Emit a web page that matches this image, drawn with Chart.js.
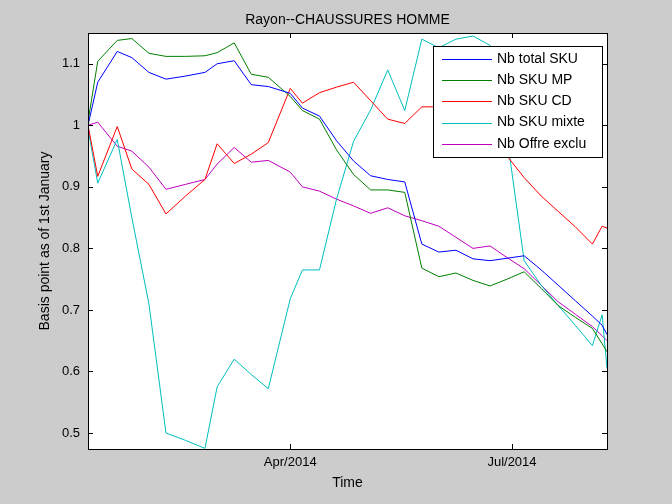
<!DOCTYPE html>
<html><head><meta charset="utf-8">
<script src="https://cdn.jsdelivr.net/npm/chart.js@4"></script>
<style>html,body{margin:0;padding:0;background:#cccccc;}#c{display:block;}</style>
</head><body>
<div style="width:672px;height:504px;"><canvas id="c" width="672" height="504"></canvas></div>
<script>
const days=[7,11,19,25,32,39,47,55,60,67,74,81,90,95,102,109,116,123,130,137,144,151,158,165,172,179,186,193,200,207,214,218,220];
const totalSKU=[1.0,1.07,1.12,1.11,1.086,1.075,1.08,1.086,1.10,1.105,1.066,1.063,1.052,1.028,1.015,0.975,0.942,0.918,0.912,0.908,0.807,0.794,0.797,0.783,0.78,0.784,0.788,0.765,0.74,0.715,0.69,0.675,0.66];
const skuMP=[1.006,1.104,1.138,1.141,1.117,1.112,1.112,1.113,1.118,1.134,1.083,1.078,1.047,1.024,1.01,0.96,0.92,0.895,0.895,0.891,0.768,0.754,0.76,0.748,0.739,0.75,0.762,0.735,0.707,0.688,0.67,0.645,0.632];
const skuCD=[1.0,0.917,0.998,0.929,0.904,0.856,0.885,0.912,0.97,0.938,0.953,0.972,1.06,1.036,1.053,1.062,1.07,1.04,1.01,1.003,1.03,1.03,1.02,1.0,0.98,0.95,0.915,0.885,0.86,0.835,0.807,0.836,0.833];
const skuMixte=[0.994,0.906,0.977,0.85,0.71,0.5,0.488,0.475,0.575,0.62,0.595,0.572,0.718,0.765,0.765,0.88,0.974,1.025,1.09,1.024,1.14,1.126,1.14,1.145,1.13,0.98,0.78,0.74,0.707,0.675,0.642,0.692,0.605];
const offreExclu=[1.0,1.005,0.966,0.958,0.932,0.896,0.904,0.912,0.937,0.964,0.94,0.943,0.924,0.9,0.893,0.88,0.869,0.857,0.866,0.853,0.845,0.836,0.818,0.8,0.804,0.785,0.767,0.74,0.713,0.693,0.673,0.658,0.65];
const xTickDays=[90,181];
const xTickLabels=['Apr/2014','Jul/2014'];
const yTicks=[0.5,0.6,0.7,0.8,0.9,1,1.1];
const labels=['Nb total SKU','Nb SKU MP','Nb SKU CD','Nb SKU mixte','Nb Offre exclu'];
const colors=['#0000ff','#008000','#ff0000','#00bfbf','#bf00bf'];
const series=[totalSKU,skuMP,skuCD,skuMixte,offreExclu];
const FONT='"Liberation Sans", Arial, sans-serif';

const deco={id:'deco',
 beforeDraw(ch){const {ctx,chartArea:a}=ch;ctx.save();ctx.fillStyle='#fff';ctx.fillRect(a.left,a.top,a.right-a.left,a.bottom-a.top);ctx.restore();},
 afterDraw(ch){const {ctx,chartArea:a,scales}=ch;ctx.save();
  ctx.strokeStyle='#000';ctx.lineWidth=1;
  ctx.strokeRect(Math.round(a.left)+0.5,Math.round(a.top)+0.5,Math.round(a.right-a.left),Math.round(a.bottom-a.top));
  const L=5;ctx.beginPath();
  xTickDays.forEach(d=>{const x=Math.round(scales.x.getPixelForValue(d))+0.5;ctx.moveTo(x,a.bottom);ctx.lineTo(x,a.bottom-L);ctx.moveTo(x,a.top);ctx.lineTo(x,a.top+L);});
  yTicks.forEach(v=>{const y=Math.round(scales.y.getPixelForValue(v))+0.5;ctx.moveTo(a.left,y);ctx.lineTo(a.left+L,y);ctx.moveTo(a.right,y);ctx.lineTo(a.right-L,y);});
  ctx.stroke();
  ctx.fillStyle='#000';ctx.font='14px '+FONT;ctx.textAlign='center';ctx.textBaseline='middle';
  ctx.fillText('Rayon--CHAUSSURES HOMME',(a.left+a.right)/2,20);
  ctx.fillText('Time',(a.left+a.right)/2,483);
  ctx.save();ctx.translate(45,(a.top+a.bottom)/2);ctx.rotate(-Math.PI/2);ctx.fillText('Basis point as of 1st January',0,0);ctx.restore();
  // legend
  const lx=433.5,ly=46.5,lw=169,lh=111;
  ctx.fillStyle='#fff';ctx.fillRect(lx,ly,lw,lh);ctx.strokeRect(lx,ly,lw,lh);
  ctx.font='14px '+FONT;ctx.textAlign='left';
  labels.forEach((t,i)=>{const y=59+i*21.2;ctx.strokeStyle=colors[i];ctx.beginPath();ctx.moveTo(442,Math.round(y)+0.5);ctx.lineTo(492,Math.round(y)+0.5);ctx.stroke();ctx.fillStyle='#000';ctx.fillText(t,497,y);});
  ctx.restore();}
};

new Chart(document.getElementById('c'),{
 type:'line',
 data:{labels:days,datasets:series.map((s,i)=>({label:labels[i],data:s.map((v,j)=>({x:days[j],y:v})),borderColor:colors[i],borderWidth:1,pointRadius:0,tension:0,fill:false}))},
 options:{responsive:false,animation:false,devicePixelRatio:1,
  layout:{padding:{left:0,top:33,right:65,bottom:0}},
  plugins:{legend:{display:false},tooltip:{enabled:false}},
  scales:{
   x:{type:'linear',min:7,max:220,grid:{display:false,drawTicks:false},border:{display:false},
      afterBuildTicks(s){s.ticks=xTickDays.map(v=>({value:v}));},
      afterFit(s){s.height=55;},
      ticks:{padding:6,color:'#000',font:{family:FONT,size:13},callback:(v)=>xTickLabels[xTickDays.indexOf(v)]??''}},
   y:{type:'linear',min:0.474,max:1.15,grid:{display:false,drawTicks:false},border:{display:false},
      afterBuildTicks(s){s.ticks=yTicks.map(v=>({value:v}));},
      afterFit(s){s.width=88;},
      ticks:{padding:8,color:'#000',font:{family:FONT,size:13},callback:(v)=>String(v)}}
  }},
 plugins:[deco]
});
</script>
</body></html>
